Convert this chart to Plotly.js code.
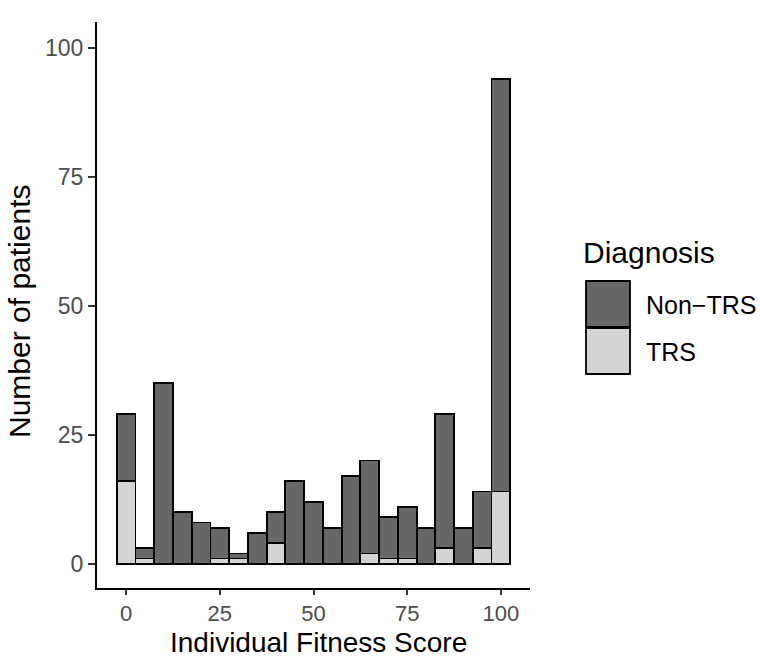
<!DOCTYPE html>
<html>
<head>
<meta charset="utf-8">
<script src="https://cdn.plot.ly/plotly-3.0.1.min.js"></script>
<style>
    body { margin: 0; background: #fff; }
    #plot { width: 760px; height: 659px; }
</style>
</head>
<body>
<div id="plot"></div>
<script>
// histogram bins (width 5), counts
const binCenters = [0, 5, 10, 15, 20, 25, 30, 35, 40, 45, 50, 55, 60, 65, 70, 75, 80, 85, 90, 95, 100];
const trsCounts = [16, 1, 0, 0, 0, 1, 1, 0, 4, 0, 0, 0, 0, 2, 1, 1, 0, 3, 0, 3, 14];
const nonTrsCounts = [13, 2, 35, 10, 8, 6, 1, 6, 6, 16, 12, 7, 17, 18, 8, 10, 7, 26, 7, 11, 80];
const groupNames = ['Non\u2212TRS', 'TRS'];
const groupColours = ['#676767', '#d4d4d4'];
const xTicks = [0, 25, 50, 75, 100];
const yTicks = [0, 25, 50, 75, 100];

const W = 760, H = 659;
const margin = {l: 97, r: 230, t: 22, b: 71};
const plotW = W - margin.l - margin.r;
const plotH = H - margin.t - margin.b;
// pixel -> paper helpers for the hand-built legend and titles
const px = (x) => (x - margin.l) / plotW;
const py = (y) => (H - margin.b - y) / plotH;

function barTrace(name, counts, colour) {
    return {
        name,
        x: binCenters,
        y: counts,
        width: 5,
        type: 'bar',
        marker: {color: colour, line: {color: '#000', width: 1.8}},
        showlegend: false,
        hoverinfo: 'x+y+name',
    };
}

// TRS first so it sits at the bottom of the stack
const data = [
    barTrace(groupNames[1], trsCounts, groupColours[1]),
    barTrace(groupNames[0], nonTrsCounts, groupColours[0]),
];

const font = 'Liberation Sans, Arial, sans-serif';
const shapes = [];
const annotations = [];

// legend keys
const keyTop = [281, 328];
groupNames.forEach((name, i) => {
    shapes.push({
        type: 'rect', xref: 'paper', yref: 'paper',
        x0: px(586), x1: px(630), y0: py(keyTop[i]), y1: py(keyTop[i] + 46),
        fillcolor: groupColours[i], line: {color: '#000', width: 1.8},
    });
    annotations.push({
        xref: 'paper', yref: 'paper', x: px(644), y: py(keyTop[i] + 24),
        xanchor: 'left', yanchor: 'middle', showarrow: false,
        text: name, font: {family: font, size: 25, color: '#000'},
    });
});
annotations.push({
    xref: 'paper', yref: 'paper', x: px(581), y: py(252),
    xanchor: 'left', yanchor: 'middle', showarrow: false,
    text: 'Diagnosis', font: {family: font, size: 30, color: '#000'},
});
// axis titles placed by hand so their spacing matches
annotations.push({
    xref: 'paper', yref: 'paper', x: px(318), y: py(642),
    xanchor: 'center', yanchor: 'middle', showarrow: false,
    text: 'Individual Fitness Score', font: {family: font, size: 28, color: '#000'},
});
annotations.push({
    xref: 'paper', yref: 'paper', x: px(19), y: py(312),
    xanchor: 'center', yanchor: 'middle', showarrow: false, textangle: -90,
    text: 'Number of patients', font: {family: font, size: 30, color: '#000'},
});

const layout = {
    width: W,
    height: H,
    margin,
    barmode: 'stack',
    bargap: 0,
    paper_bgcolor: '#fff',
    plot_bgcolor: '#fff',
    font: {family: font},
    showlegend: false,
    xaxis: {
        range: [-7.75, 107.75],
        tickvals: xTicks,
        ticks: 'outside', ticklen: 5, tickwidth: 2, tickcolor: '#333',
        tickfont: {size: 22, color: '#4d4d4d'},
        showline: true, linecolor: '#000', linewidth: 2,
        showgrid: false, zeroline: false,
    },
    yaxis: {
        range: [-4.7, 105],
        tickvals: yTicks,
        ticks: 'outside', ticklen: 7, tickwidth: 2, tickcolor: '#333',
        tickfont: {size: 23, color: '#4d4d4d'},
        showline: true, linecolor: '#000', linewidth: 2,
        showgrid: false, zeroline: false,
    },
    shapes,
    annotations,
};

Plotly.newPlot('plot', data, layout, {displayModeBar: false, staticPlot: true});
</script>
</body>
</html>
